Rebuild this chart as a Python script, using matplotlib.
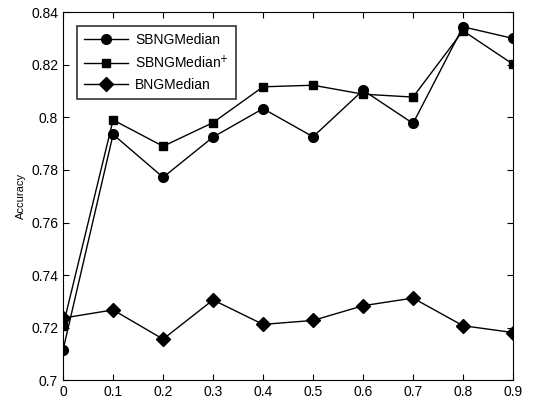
import matplotlib
matplotlib.use("Agg")
from matplotlib import pyplot as plt

plt.rcParams['font.family'] = ['Liberation Sans', 'DejaVu Sans']

x = [0, 0.1, 0.2, 0.3, 0.4, 0.5, 0.6, 0.7, 0.8, 0.9]
sbng = [0.7117, 0.7935, 0.7772, 0.7925, 0.8033, 0.7926, 0.8103, 0.7977, 0.8344, 0.8300]
sbng_plus = [0.7208, 0.7990, 0.7890, 0.7980, 0.8116, 0.8122, 0.8088, 0.8077, 0.8329, 0.8202]
bng = [0.7237, 0.7268, 0.7157, 0.7306, 0.7213, 0.7228, 0.7284, 0.7313, 0.7208, 0.7182]

fig = plt.figure(figsize=(5.44, 4.03), dpi=100)
ax = fig.add_axes([0.116, 0.056, 0.827, 0.914])

ax.plot(x, sbng, marker="o", color="black", lw=1, ms=7, label="SBNGMedian")
ax.plot(x, sbng_plus, marker="s", color="black", lw=1, ms=6, label="SBNGMedian$^{+}$")
ax.plot(x, bng, marker="D", color="black", lw=1, ms=7, label="BNGMedian")

ax.set_xlim(0, 0.9)
ax.set_ylim(0.7, 0.84)
ax.set_xticks(x)
ax.set_xticklabels(["0", "0.1", "0.2", "0.3", "0.4", "0.5", "0.6", "0.7", "0.8", "0.9"])
ax.set_yticks([0.7, 0.72, 0.74, 0.76, 0.78, 0.8, 0.82, 0.84])
ax.set_yticklabels(["0.7", "0.72", "0.74", "0.76", "0.78", "0.8", "0.82", "0.84"])
ax.tick_params(direction="in", top=True, right=True, labelsize=10, length=4)
ax.set_ylabel("Accuracy", fontsize=8)

leg = ax.legend(loc="upper left", fontsize=10, fancybox=False, edgecolor="black",
                handlelength=3.2, handletextpad=0.5, borderpad=0.5,
                borderaxespad=1.0)
leg.get_frame().set_linewidth(1.2)

fig.savefig("out.png", dpi=100)
